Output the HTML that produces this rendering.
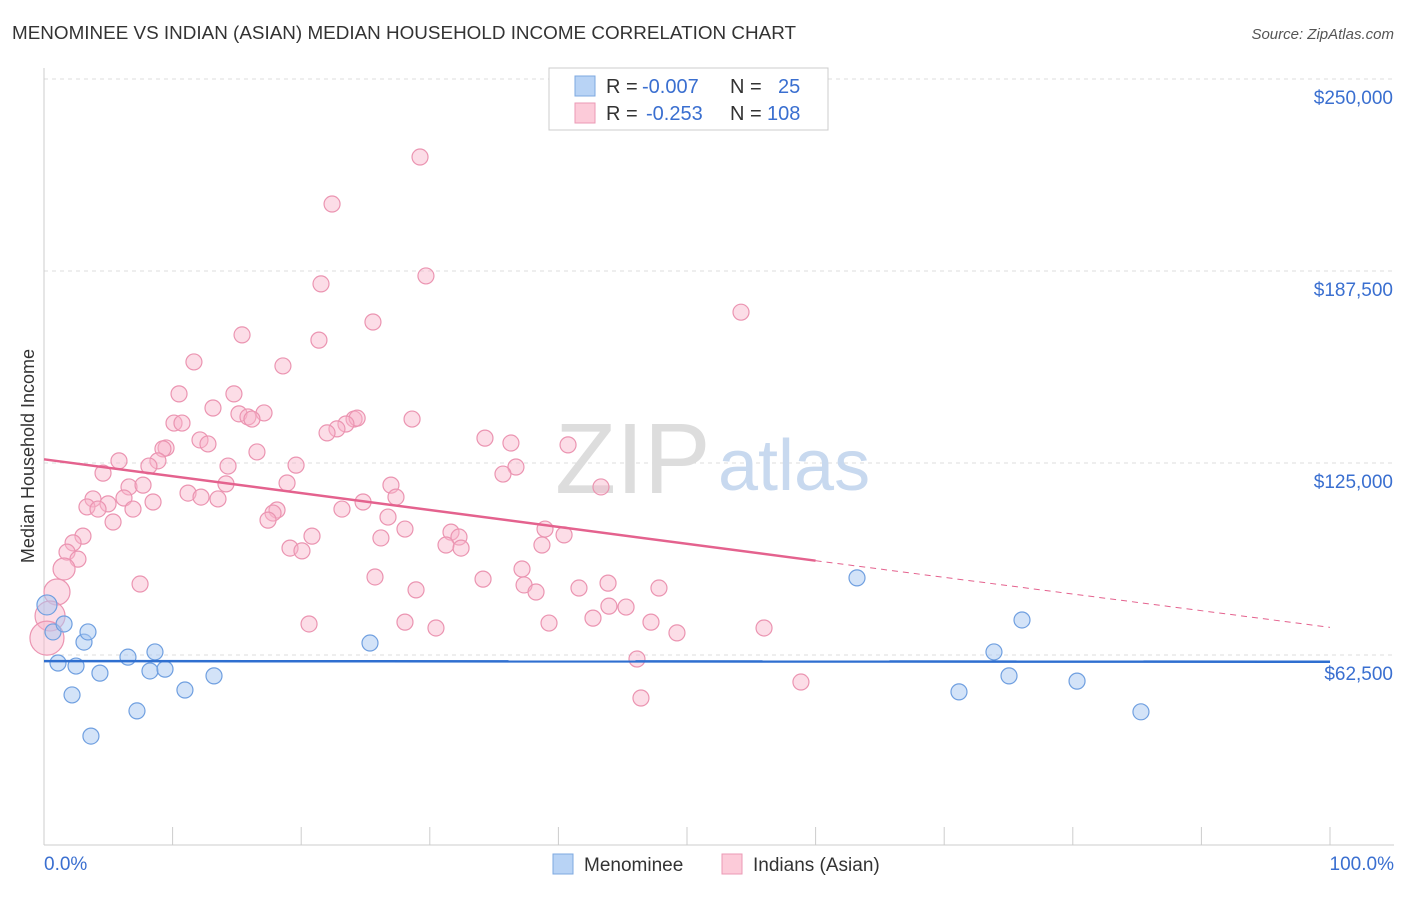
<!DOCTYPE html>
<html><head><meta charset="utf-8">
<style>
body{margin:0;background:#fff;font-family:"Liberation Sans",sans-serif;}
svg text{font-family:"Liberation Sans",sans-serif;}
</style></head>
<body>
<svg id="chart" width="1406" height="892" viewBox="0 0 1406 892">
<text x="12" y="39" font-size="18" fill="#333" textLength="784" lengthAdjust="spacingAndGlyphs">MENOMINEE VS INDIAN (ASIAN) MEDIAN HOUSEHOLD INCOME CORRELATION CHART</text>
<text x="1394" y="39" font-size="15" fill="#555" font-style="italic" text-anchor="end">Source: ZipAtlas.com</text>
<g id="grid"></g>
<g id="axes"></g>
<text x="555" y="493" font-size="100" fill="#ddd" font-family="Liberation Serif">ZIP</text>
<text x="718" y="490" font-size="72" fill="#c8d9ef">atlas</text>
<g id="pts"></g>
<g id="lines"></g>
<g>
<rect x="549" y="68" width="279" height="62" fill="#fff" stroke="#ccc"/>
<rect x="575" y="76" width="20" height="20" fill="#b8d3f5" stroke="#7ea8e0"/>
<rect x="575" y="103" width="20" height="20" fill="#fccbd9" stroke="#eb9ab5"/>
<text x="606" y="93" font-size="20" fill="#333">R =</text>
<text x="642" y="93" font-size="20" fill="#3a6fd0">-0.007</text>
<text x="730" y="93" font-size="20" fill="#333">N =</text>
<text x="778" y="93" font-size="20" fill="#3a6fd0">25</text>
<text x="606" y="120" font-size="20" fill="#333">R =</text>
<text x="646" y="120" font-size="20" fill="#3a6fd0">-0.253</text>
<text x="730" y="120" font-size="20" fill="#333">N =</text>
<text x="767" y="120" font-size="20" fill="#3a6fd0">108</text>
</g>
<g>
<rect x="553" y="854" width="20" height="20" fill="#b8d3f5" stroke="#7ea8e0"/>
<text x="584" y="871" font-size="19" fill="#333">Menominee</text>
<rect x="722" y="854" width="20" height="20" fill="#fccbd9" stroke="#eb9ab5"/>
<text x="753" y="871" font-size="19" fill="#333">Indians (Asian)</text>
</g>
<text transform="translate(34,456) rotate(-90)" font-size="18" fill="#333" text-anchor="middle">Median Household Income</text>
</svg>
<script>
const yTicks=[62500,125000,187500,250000];
const yTickLabels=["$62,500","$125,000","$187,500","$250,000"];
const xTickLabels=["0.0%","100.0%"];
const menomineePct=[0.23,0.70,1.09,1.56,2.18,2.49,3.11,3.42,3.65,4.35,6.53,7.23,8.24,8.63,9.41,10.96,13.22,25.35,63.22,71.15,73.87,75.04,76.05,80.33,85.30];
const menomineeInc=[78.8,70.0,59.9,72.6,49.5,58.9,66.7,70.0,36.1,56.6,61.8,44.3,57.3,63.5,57.9,51.1,55.7,66.4,87.6,50.5,63.5,55.7,73.9,54.0,44.0];
const indianPct=[29.24,22.40,29.70,21.54,54.20,25.58,15.40,21.38,11.66,18.58,10.50,14.77,13.14,17.11,15.16,15.86,16.17,24.11,24.35,28.62,23.48,10.11,10.73,22.78,22.01,12.13,12.75,34.29,36.31,40.75,9.49,9.25,16.56,5.83,8.86,8.16,14.31,19.60,36.70,4.59,35.69,14.15,18.90,26.98,43.31,6.61,7.70,11.20,3.81,6.22,12.21,13.53,27.37,8.48,24.81,4.98,3.34,4.20,6.92,18.12,23.17,17.81,26.75,17.42,5.37,28.07,38.96,31.65,3.03,20.84,26.20,32.27,40.44,2.26,31.26,32.43,38.72,19.13,20.06,1.79,2.64,1.56,37.17,25.74,34.14,37.33,7.47,43.86,41.60,47.82,28.93,38.26,1.01,43.93,45.26,42.69,28.07,0.47,20.61,39.27,47.20,30.48,55.99,49.22,0.23,46.11,58.86,46.42];
const indianInc=[224.6,209.3,185.9,183.3,174.1,170.9,166.7,165.0,157.9,156.6,147.5,147.5,142.9,141.3,141.0,140.0,139.3,139.3,139.6,139.3,137.7,138.0,138.0,136.1,134.8,132.5,131.2,133.1,131.5,130.9,129.9,129.6,128.6,125.7,125.7,124.0,124.0,124.3,123.7,121.7,121.4,118.2,118.5,117.8,117.2,117.2,117.8,115.2,113.3,113.6,113.9,113.3,113.9,112.3,112.3,111.7,110.7,110.0,110.0,109.7,110.0,108.7,107.4,106.4,105.8,103.5,103.5,102.5,101.2,101.2,100.6,100.9,101.6,99.0,98.3,97.3,98.3,97.3,96.4,96.0,93.7,90.5,90.5,87.9,87.2,85.3,85.6,85.9,84.3,84.3,83.7,83.0,83.0,78.4,78.1,74.5,73.2,75.2,72.6,72.9,73.2,71.3,71.3,69.7,68.0,61.2,53.7,48.5];
const menomineeTrend=[[0,60.5],[100,60.3]];
const indianTrend=[[0,126.2],[60,93.2],[100,71.5]];
const bigMenominee={0:10};
const bigIndian={92:13,97:15,104:17,81:11};

const NS="http://www.w3.org/2000/svg";
const X=p=>44+p/100*1286;
const Y=v=>655-(v-62500)/62500*192;
function mk(t,a,parent){const e=document.createElementNS(NS,t);for(const k in a)e.setAttribute(k,a[k]);parent.appendChild(e);return e;}
const grid=document.getElementById('grid'),axes=document.getElementById('axes'),pts=document.getElementById('pts'),lines=document.getElementById('lines');
yTicks.forEach((v,i)=>{
 const g=mk('line',{x1:44,x2:1394,y1:Y(v),y2:Y(v),stroke:'#ddd','stroke-dasharray':'4,4'},grid);
 
 
 const t=mk('text',{x:1393,y:Y(v)+25,'font-size':19,fill:'#3a6fd0','text-anchor':'end'},axes);
 t.textContent=yTickLabels[i];
 
 
});
mk('line',{x1:44,x2:44,y1:68,y2:845,stroke:'#ccc'},axes);
mk('line',{x1:44,x2:1394,y1:845,y2:845,stroke:'#ccc'},axes);
for(let i=0;i<=10;i++){const l=mk('line',{x1:X(i*10),x2:X(i*10),y1:827,y2:845,stroke:'#ccc'},axes);
 
 }
[[0,44,'start'],[1,1394,'end']].forEach(([i,x,a])=>{const t=mk('text',{x:x,y:870,'font-size':19,fill:'#3a6fd0','text-anchor':a},axes);t.textContent=xTickLabels[i];
 
 });
indianPct.forEach((p,i)=>{const c=mk('circle',{cx:X(p),cy:Y(indianInc[i]*1000),r:bigIndian[i]||8,fill:'rgba(248,180,202,0.45)',stroke:'#eb94b1','stroke-width':1.2},pts);
 
 });
menomineePct.forEach((p,i)=>{const c=mk('circle',{cx:X(p),cy:Y(menomineeInc[i]*1000),r:bigMenominee[i]||8,fill:'rgba(168,200,242,0.5)',stroke:'#6f9fe0','stroke-width':1.2},pts);
 
 });
let bl=mk('line',{x1:X(menomineeTrend[0][0]),y1:Y(menomineeTrend[0][1]*1000),x2:X(menomineeTrend[1][0]),y2:Y(menomineeTrend[1][1]*1000),stroke:'#2f6fd0','stroke-width':2.5},lines);


let pl=mk('line',{x1:X(indianTrend[0][0]),y1:Y(indianTrend[0][1]*1000),x2:X(indianTrend[1][0]),y2:Y(indianTrend[1][1]*1000),stroke:'#e4628e','stroke-width':2.5},lines);


let pd=mk('line',{x1:X(indianTrend[1][0]),y1:Y(indianTrend[1][1]*1000),x2:X(indianTrend[2][0]),y2:Y(indianTrend[2][1]*1000),stroke:'#e4628e','stroke-width':1,'stroke-dasharray':'6,5'},lines);


</script>
</body></html>
